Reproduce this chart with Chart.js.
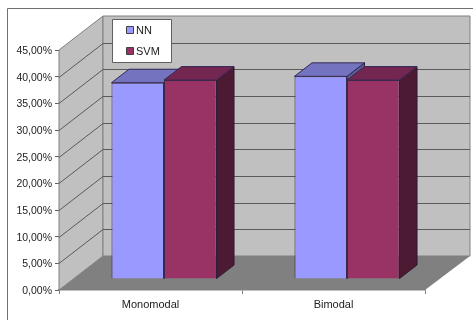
<!DOCTYPE html>
<html>
<head>
<meta charset="utf-8">
<style>
html, body { margin: 0; padding: 0; background: #fff; overflow: hidden; }
canvas { display: block; }
</style>
<script src="https://cdn.jsdelivr.net/npm/chart.js@4"></script>
</head>
<body>
<canvas id="chart" width="473" height="320"></canvas>
<script>
const categories = ["Monomodal", "Bimodal"];
const series_names = ["NN", "SVM"];
const nn_values = [36.8, 38.0];
const svm_values = [37.3, 37.3];

const FONT = "Liberation Sans";
const WALL_DX = 44, WALL_DY = 34;   // depth of the walls
const BAR_DX = 13.5, BAR_DY = 11;   // bars sit inside the floor
const SIDE_DX = 17.5, SIDE_DY = 13.5;

const front_colors = ["#9999ff", "#993366"];
const top_colors = ["#7373bf", "#732650"];
const side_colors = ["#5c5c99", "#4d1a33"];

function poly(ctx, pts, fill, stroke) {
    ctx.beginPath();
    pts.forEach((p, i) => i ? ctx.lineTo(p[0], p[1]) : ctx.moveTo(p[0], p[1]));
    ctx.closePath();
    ctx.fillStyle = fill;
    ctx.fill();
    if (stroke) {
        ctx.strokeStyle = stroke;
        ctx.lineWidth = 1;
        ctx.stroke();
    }
}

// Frame, walls, floor and the gridlines bent around the corner
const box_plugin = {
    id: "box3d",
    beforeDatasetsDraw(chart) {
        const ctx = chart.ctx;
        const a = chart.chartArea;
        const bx = a.left + WALL_DX, ty = a.top - WALL_DY, by = a.bottom - WALL_DY;
        const rx = a.right + 45;

        ctx.save();
        ctx.strokeStyle = "#707070";
        ctx.lineWidth = 1;
        ctx.beginPath();
        ctx.moveTo(7.5, 320);
        ctx.lineTo(7.5, 8.5);
        ctx.lineTo(473, 8.5);
        ctx.stroke();

        poly(ctx, [[a.left, a.top], [bx, ty], [bx, by], [a.left, a.bottom]], "#c0c0c0", "#808080");
        poly(ctx, [[bx, ty], [rx, ty], [rx, by], [bx, by]], "#c0c0c0", "#808080");

        ctx.strokeStyle = "#5a5a5a";
        ctx.beginPath();
        chart.scales.y.ticks.forEach(t => {
            if (t.value === 0 || t.value === 45) return;
            const y = Math.round(chart.scales.y.getPixelForValue(t.value)) + 0.5;
            ctx.moveTo(a.left, y);
            ctx.lineTo(bx, y - WALL_DY);
            ctx.lineTo(rx, y - WALL_DY);
        });
        ctx.stroke();

        poly(ctx, [[a.left, a.bottom], [bx, by], [rx, by], [a.right, a.bottom]], "#808080");

        // Side and top faces, NN first so SVM covers it
        chart.data.datasets.forEach((ds, i) => {
            chart.getDatasetMeta(i).data.forEach(bar => {
                const l = bar.x - bar.width / 2 + BAR_DX, r = bar.x + bar.width / 2 + BAR_DX;
                const t = bar.y - BAR_DY, b = bar.base - BAR_DY;
                poly(ctx, [[r, t], [r + SIDE_DX, t - SIDE_DY], [r + SIDE_DX, b - SIDE_DY], [r, b]], side_colors[i], "#2b1a33");
                poly(ctx, [[l, t], [l + SIDE_DX, t - SIDE_DY], [r + SIDE_DX, t - SIDE_DY], [r, t]], top_colors[i], "#332a55");
            });
        });
        ctx.restore();

        // The library draws the front faces, pushed back onto the floor
        ctx.save();
        ctx.translate(BAR_DX, -BAR_DY);
    },
    afterDatasetsDraw(chart) {
        const ctx = chart.ctx;
        ctx.restore();

        // Legend box
        ctx.save();
        poly(ctx, [[112.5, 19.5], [171.5, 19.5], [171.5, 62.5], [112.5, 62.5]], "#ffffff", "#606060");
        ctx.font = "11px '" + FONT + "'";
        ctx.textBaseline = "middle";
        series_names.forEach((name, i) => {
            const y = 30.5 + i * 21;
            poly(ctx, [[126.5, y - 4], [133.5, y - 4], [133.5, y + 3], [126.5, y + 3]], front_colors[i], "#404040");
            ctx.fillStyle = "#222";
            ctx.fillText(name, 136, y);
        });
        ctx.restore();
    }
};

new Chart(document.getElementById("chart"), {
    type: "bar",
    data: {
        labels: categories,
        datasets: [
            { label: series_names[0], data: nn_values, backgroundColor: front_colors[0] },
            { label: series_names[1], data: svm_values, backgroundColor: front_colors[1] }
        ]
    },
    plugins: [box_plugin],
    options: {
        responsive: false,
        animation: false,
        layout: { padding: { top: 50, right: 48 } },
        datasets: {
            bar: {
                barPercentage: 1,
                categoryPercentage: 0.574,
                borderWidth: 1,
                borderColor: "#3a2a4a",
                clip: false
            }
        },
        plugins: {
            legend: { display: false },
            tooltip: { enabled: false }
        },
        scales: {
            x: {
                afterFit: s => { s.height = 30; },
                grid: { offset: true, drawOnChartArea: false, tickLength: 4, color: "#808080" },
                border: { color: "#808080", width: 1.5 },
                ticks: { color: "#222", padding: 4, maxRotation: 0, font: { family: FONT, size: 11 } }
            },
            y: {
                min: 0,
                max: 45,
                afterFit: s => { s.width = 59; },
                grid: { drawOnChartArea: false, tickLength: 4, color: "#606060" },
                border: { color: "#808080" },
                ticks: {
                    stepSize: 5,
                    color: "#222",
                    padding: 3,
                    labelOffset: 1,
                    font: { family: FONT, size: 10.5 },
                    callback: v => v.toFixed(2).replace(".", ",") + "%"
                }
            }
        }
    }
});
</script>
</body>
</html>
